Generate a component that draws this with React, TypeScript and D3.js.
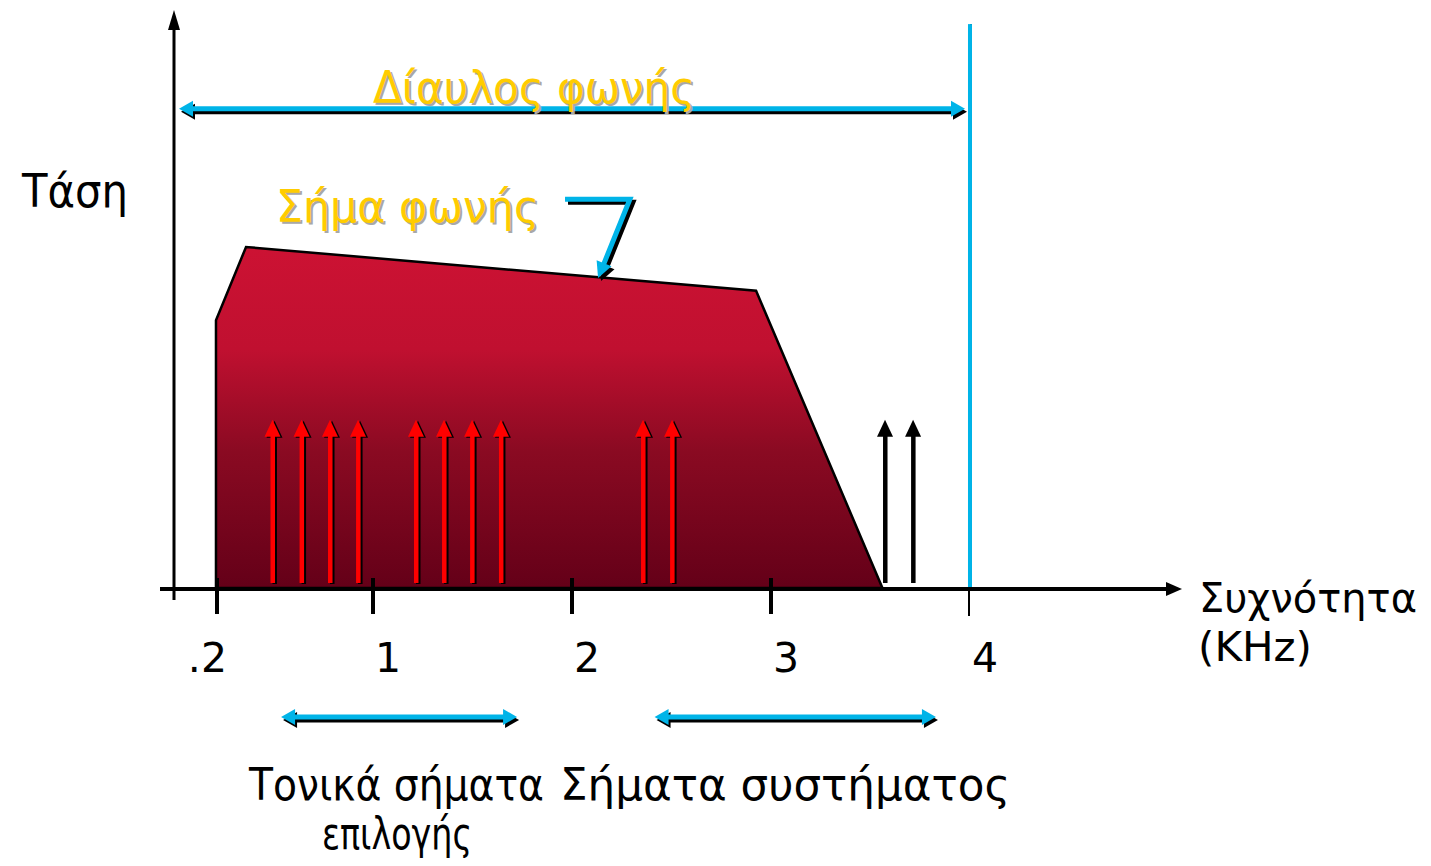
import React from "react";
import * as d3 from "d3";

// spectrum outline of the voice signal (kHz, relative voltage)
const voiceShape: [number, number][] = [
  [0.216, 0],
  [0.216, 4.65],
  [0.367, 5.92],
  [2.93, 5.16],
  [3.565, 0],
];
// tone (DTMF) arrows, red
const toneFreqs = [0.5, 0.646, 0.789, 0.93, 1.221, 1.362, 1.503, 1.648];
// system signal arrows inside the voice band, red
const sysRedFreqs = [2.362, 2.508];
// system signal arrows outside the voice band, black
const sysBlackFreqs = [3.578, 3.719];
const arrowLevel = 2.92;

const tickValues = [0.216, 1, 2, 3, 4];
const tickLabels = [".2", "1", "2", "3", "4"];

const channelEdge = 4.01;
const channelSpan: [number, number] = [0.03, 3.98];
const channelLevel = 8.32;
const pointer: [number, number][] = [
  [1.97, 6.75],
  [2.296, 6.75],
  [2.136, 5.38],
];
const toneRange: [number, number] = [0.543, 1.729];
const systemRange: [number, number] = [2.42, 3.834];
const rangeLevel = -2.24;

const FONT = "DejaVu Sans";
const BLUE = "#00B4E8";
const YELLOW = "#FFCC00";

const x = d3.scaleLinear().domain([0, 4]).range([173, 969]);
const y = d3.scaleLinear().domain([0, 10]).range([588, 12]);

// triangle head at (tx,ty) pointing along angle a
function head(tx: number, ty: number, a: number, len: number, half: number) {
  const bx = tx - len * Math.cos(a);
  const by = ty - len * Math.sin(a);
  const nx = -Math.sin(a) * half;
  const ny = Math.cos(a) * half;
  return `M${tx},${ty}L${bx + nx},${by + ny}L${bx - nx},${by - ny}Z`;
}

function DoubleArrow({ x1, x2, yy, dx = 2, dy = 3 }: { x1: number; x2: number; yy: number; dx?: number; dy?: number }) {
  const draw = (ox: number, oy: number, c: string) => (
    <g>
      <line x1={x1 + 8 + ox} x2={x2 - 8 + ox} y1={yy + oy} y2={yy + oy} stroke={c} strokeWidth={5} />
      <path d={head(x1 + ox, yy + oy, Math.PI, 14, 8)} fill={c} />
      <path d={head(x2 + ox, yy + oy, 0, 14, 8)} fill={c} />
    </g>
  );
  return (
    <g>
      {draw(dx, dy, "#000")}
      {draw(0, 0, BLUE)}
    </g>
  );
}

function UpArrow({ f, color, shadow }: { f: number; color: string; shadow: boolean }) {
  const cx = x(f);
  const top = y(arrowLevel);
  const draw = (ox: number, oy: number, c: string) => (
    <g>
      <rect x={cx - 2 + ox} y={top + 14 + oy} width={4.5} height={y(0) - 5 - top - 14} fill={c} />
      <path d={head(cx + ox, top + oy, -Math.PI / 2, 17, 8)} fill={c} />
    </g>
  );
  return (
    <g>
      {shadow && draw(2, 1, "#000")}
      {draw(0, 0, color)}
    </g>
  );
}

function ShadowText({ tx, ty, len, children }: { tx: number; ty: number; len: number; children: string }) {
  return (
    <g fontFamily={FONT} fontSize={44}>
      <text x={tx + 2} y={ty + 2} fill="#A8A8A8" textLength={len} lengthAdjust="spacingAndGlyphs">{children}</text>
      <text x={tx} y={ty} fill={YELLOW} textLength={len} lengthAdjust="spacingAndGlyphs">{children}</text>
    </g>
  );
}

function Label({ tx, ty, len, children }: { tx: number; ty: number; len: number; children: string }) {
  return (
    <text x={tx} y={ty} textLength={len} lengthAdjust="spacingAndGlyphs">
      {children}
    </text>
  );
}

export default function App() {
  const area = d3.line<[number, number]>().x((d) => x(d[0])).y((d) => y(d[1]));
  const shapePath = area(voiceShape) + "Z";
  const px = pointer.map((p) => [x(p[0]), y(p[1])] as [number, number]);
  const last = px[px.length - 1];
  const prev = px[px.length - 2];
  const ang = Math.atan2(last[1] - prev[1], last[0] - prev[0]);
  const ptrLine = (ox: number, oy: number) =>
    d3.line()(px.map((p, i) => (i === px.length - 1 ? [p[0] - 10 * Math.cos(ang) + ox, p[1] - 10 * Math.sin(ang) + oy] : [p[0] + ox, p[1] + oy])) as [number, number][]);

  return (
    <svg width={1431} height={866} style={{ position: "absolute", left: 0, top: 0 }}>
      <defs>
        <linearGradient id="voice" x1="0" y1={y(5.92)} x2="0" y2={y(0)} gradientUnits="userSpaceOnUse">
          <stop offset="0" stopColor="#CC1233" />
          <stop offset="0.3" stopColor="#C01030" />
          <stop offset="0.6" stopColor="#8A0A22" />
          <stop offset="1" stopColor="#640018" />
        </linearGradient>
      </defs>
      <rect width={1431} height={866} fill="#fff" />

      {/* voice signal */}
      <path d={shapePath} fill="url(#voice)" stroke="#000" strokeWidth={2.5} strokeLinejoin="miter" />

      {/* channel edge */}
      <rect x={x(channelEdge) - 1} y={y(9.79)} width={2} height={y(0) - y(9.79)} fill="#000" />
      <rect x={x(channelEdge) - 3} y={y(9.79)} width={4} height={y(0) - y(9.79)} fill={BLUE} />

      {toneFreqs.concat(sysRedFreqs).map((f) => (
        <UpArrow key={f} f={f} color="#FF0000" shadow />
      ))}
      {sysBlackFreqs.map((f) => (
        <UpArrow key={f} f={f} color="#000" shadow={false} />
      ))}

      {/* axes */}
      <line x1={x(0) + 1} x2={x(0) + 1} y1={y(9.7)} y2={y(0) + 12} stroke="#000" strokeWidth={3} />
      <path d={head(x(0) + 1, y(10) - 2, -Math.PI / 2, 20, 6)} fill="#000" />
      <line x1={160} x2={1168} y1={y(0) + 1} y2={y(0) + 1} stroke="#000" strokeWidth={4} />
      <path d={head(1182, y(0) + 1, 0, 16, 7)} fill="#000" />
      {tickValues.map((t, i) => (
        <g key={t}>
          {i < tickValues.length - 1 ? (
            <line x1={x(t) + 1} x2={x(t) + 1} y1={y(0) - 10} y2={y(0) + 26} stroke="#000" strokeWidth={4} />
          ) : (
            <line x1={x(t)} x2={x(t)} y1={y(0)} y2={y(0) + 28} stroke="#000" strokeWidth={2} />
          )}
          {/* the ".2" label sits right-aligned near its tick, the digits a bit to the right */}
          <text
            x={i === 0 ? x(t) + 11 : x(t) + 16}
            y={y(0) + 84}
            fontFamily={FONT}
            fontSize={41}
            textAnchor={i === 0 ? "end" : "middle"}
          >
            {tickLabels[i]}
          </text>
        </g>
      ))}

      {/* channel span */}
      <DoubleArrow x1={x(channelSpan[0])} x2={x(channelSpan[1])} yy={y(channelLevel)} />
      <ShadowText tx={373} ty={103} len={322}>Δίαυλος φωνής</ShadowText>

      {/* voice label and pointer */}
      <ShadowText tx={276} ty={222} len={263}>Σήμα φωνής</ShadowText>
      <path d={ptrLine(3, 3) ?? ""} fill="none" stroke="#000" strokeWidth={5} strokeLinejoin="miter" />
      <path d={head(last[0] + 3, last[1] + 3, ang, 16, 8)} fill="#000" />
      <path d={ptrLine(0, 0) ?? ""} fill="none" stroke={BLUE} strokeWidth={5} strokeLinejoin="miter" />
      <path d={head(last[0], last[1], ang, 16, 8)} fill={BLUE} />

      {/* signal ranges */}
      <DoubleArrow x1={x(toneRange[0])} x2={x(toneRange[1])} yy={y(rangeLevel)} />
      <DoubleArrow x1={x(systemRange[0])} x2={x(systemRange[1])} yy={y(rangeLevel)} />

      <g fontFamily={FONT} fontSize={46} fill="#000">
        <Label tx={22} ty={207} len={106}>Τάση</Label>
      </g>
      <g fontFamily={FONT} fontSize={41} fill="#000">
        <Label tx={1199} ty={612} len={218}>Συχνότητα</Label>
        <Label tx={1198} ty={661} len={114}>(KHz)</Label>
      </g>
      <g fontFamily={FONT} fontSize={44} fill="#000">
        <Label tx={249} ty={800} len={295}>Τονικά σήματα</Label>
        <Label tx={322} ty={849} len={150}>επιλογής</Label>
        <Label tx={560} ty={800} len={450}>Σήματα συστήματος</Label>
      </g>
    </svg>
  );
}
